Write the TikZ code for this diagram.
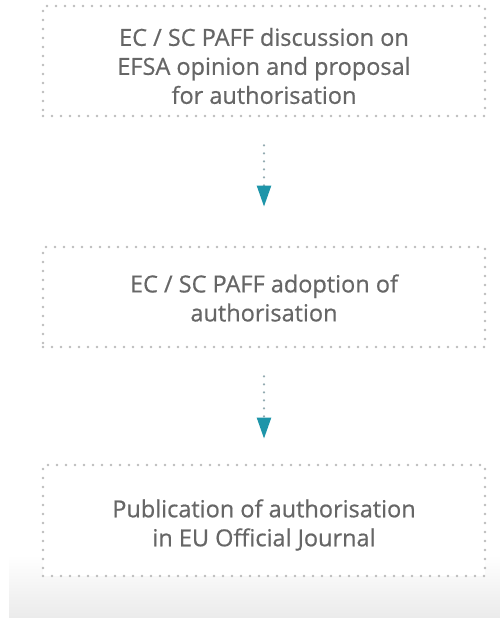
\documentclass[tikz,border=0pt]{standalone}
\usepackage{fontspec}
\newfontfamily\stepfont[FakeBold=0.6]{Open Sans}
\usetikzlibrary{arrows.meta}
\definecolor{dotgrey}{HTML}{BCBCBC}
\definecolor{txtgrey}{HTML}{666666}
\definecolor{arrdot}{HTML}{93ABB1}
\definecolor{teal}{HTML}{1E95A9}
\definecolor{bandgrey}{HTML}{EBEBEB}
\tikzset{
  stepbox/.style={draw=dotgrey, fill=white, line width=2.8pt, dash pattern=on 0pt off 9pt,
    line cap=round, minimum width=442pt, inner sep=0pt},
  steptext/.style={text=txtgrey, font=\stepfont\fontsize{23.5}{29}\selectfont, align=center, inner sep=0pt},
  flowarrow/.style={draw=arrdot, line width=2.4pt, dash pattern=on 0pt off 8pt, line cap=round,
    -{Triangle[width=14pt,length=21pt,color=teal]}}
}
\begin{document}
\begin{tikzpicture}[x=1pt,y=-1pt]
\useasboundingbox (0,0) rectangle (500,621);
\shade[top color=white, bottom color=bandgrey] (9,555) rectangle (500,617);
\node[stepbox, minimum height=110pt] (b1) at (264,61) {};
\node[stepbox, minimum height=100pt] (b2) at (264,297) {};
\node[stepbox, minimum height=111pt] (b3) at (264,520.5) {};
\node[steptext] (t1) at (264,66) {EC / SC PAFF discussion on\\EFSA opinion and proposal\\for authorisation};
\node[steptext] (t2) at (264,298) {EC / SC PAFF adoption of\\authorisation};
\node[steptext] (t3) at (264,525) {Publication of authorisation\\in EU Official Journal};
\draw[flowarrow, shorten <=28pt, shorten >=39pt] (b1.south) -- (b2.north);
\draw[flowarrow, shorten <=28pt, shorten >=25pt] (b2.south) -- (b3.north);
\end{tikzpicture}
\end{document}
